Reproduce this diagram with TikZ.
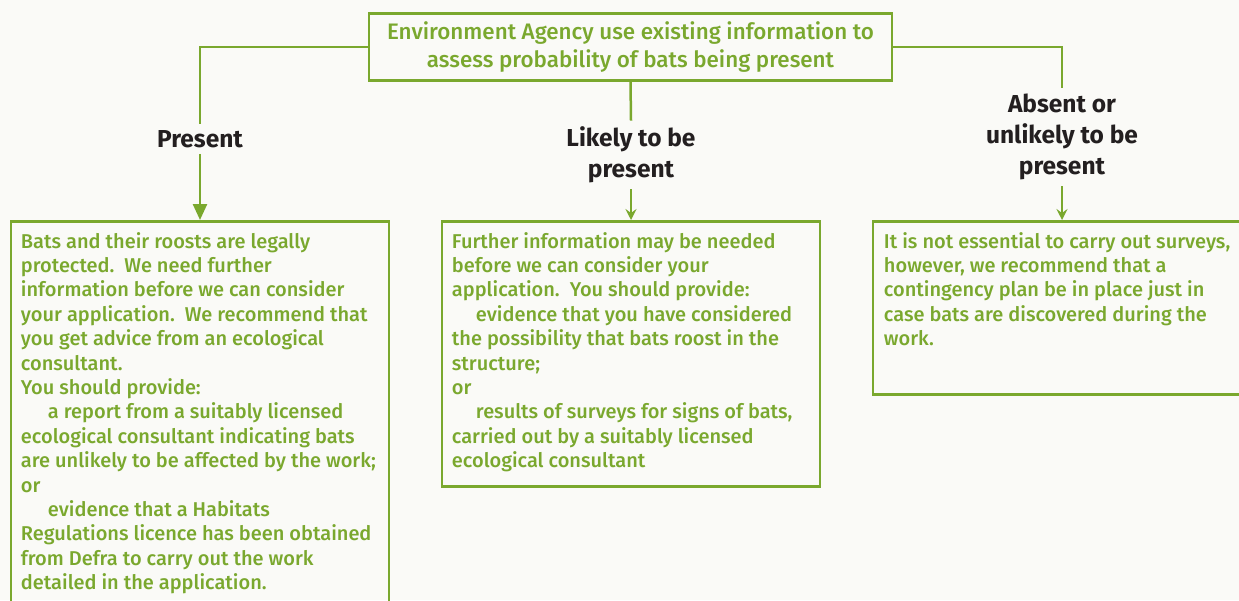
\documentclass[tikz,border=0pt]{standalone}
\usepackage{fontspec}
\setmainfont{Fira Sans}
\newfontfamily\panelfont{Fira Sans Medium}
\usetikzlibrary{arrows.meta,positioning}

\definecolor{batgreen}{RGB}{122,168,46}
\definecolor{labelink}{RGB}{35,31,32}
\definecolor{paper}{RGB}{250,250,247}

\tikzset{
    flow/.style={draw=batgreen,line width=2.5pt},
    outcome/.style={font=\bfseries\fontsize{24.5}{31}\selectfont,text=labelink,align=center,inner sep=6pt},
    panel/.style={draw=batgreen,line width=2.5pt,anchor=north,inner sep=0pt},
    paneltext/.style={anchor=north west,align=left,text=batgreen,font=\panelfont\fontsize{20}{24.4}\selectfont,inner sep=0pt},
}

\begin{document}
\begin{tikzpicture}[x=1pt,y=-1pt]
    \useasboundingbox (0,0) rectangle (1239,600);
    \fill[paper] (0,0) rectangle (1239,600);
    \clip (0,0) rectangle (1239,600);

    % question at the top
    \node[draw=batgreen,line width=2.5pt,text=batgreen,align=center,font=\panelfont\fontsize{22.4}{28}\selectfont,
          minimum width=523pt,minimum height=67pt] (ask) at (630.5,47)
        {Environment Agency use existing information to\\assess probability of bats being present};

    % the three answers
    \node[outcome] (present) at (200,139) {Present};
    \node[outcome] (likely) at (631,155) {Likely to be\\present};
    \node[outcome] (absent) at (1062,137) {Absent or\\unlikely to be\\present};

    % panels under each answer
    \node[panel,minimum width=378pt,minimum height=400pt] (presbox) at (200,220) {};
    \node[panel,minimum width=378pt,minimum height=265pt] (likelybox) at (631,220) {};
    \node[panel,minimum width=378pt,minimum height=173pt] (absentbox) at (1062,220) {};

    \node[paneltext] (prestext) at ([shift={(11,12)}]presbox.north west) {%
        Bats and their roosts are legally\\
        protected.\ \ We need further\\
        information before we can consider\\
        your application.\ \ We recommend that\\
        you get advice from an ecological\\
        consultant.\\
        You should provide:\\
        \hspace*{27pt}a report from a suitably licensed\\
        ecological consultant indicating bats\\
        are unlikely to be affected by the work;\\
        or\\
        \hspace*{27pt}evidence that a Habitats\\
        Regulations licence has been obtained\\
        from Defra to carry out the work\\
        detailed in the application.};
    \node[paneltext] (likelytext) at ([shift={(11,12)}]likelybox.north west) {%
        Further information may be needed\\
        before we can consider your\\
        application.\ \ You should provide:\\
        \hspace*{24pt}evidence that you have considered\\
        the possibility that bats roost in the\\
        structure;\\
        or\\
        \hspace*{24pt}results of surveys for signs of bats,\\
        carried out by a suitably licensed\\
        ecological consultant};
    \node[paneltext] (absenttext) at ([shift={(12,12)}]absentbox.north west) {%
        It is not essential to carry out surveys,\\
        however, we recommend that a\\
        contingency plan be in place just in\\
        case bats are discovered during the\\
        work.};

    % connectors
    \draw[flow] (ask.west) -| (present.north);
    \draw[flow] (ask.east) -| (absent.north);
    \draw[flow] (ask.south) -- (likely.north);
    \draw[flow,-{Triangle[length=16pt,width=14pt]}] (present.south) -- (presbox.north);
    \foreach \a/\b in {likely/likelybox,absent/absentbox}{
        \draw[flow,-{Stealth[length=11pt,width=11pt,inset=4pt]}] (\a.south) -- (\b.north);
    }
\end{tikzpicture}
\end{document}
